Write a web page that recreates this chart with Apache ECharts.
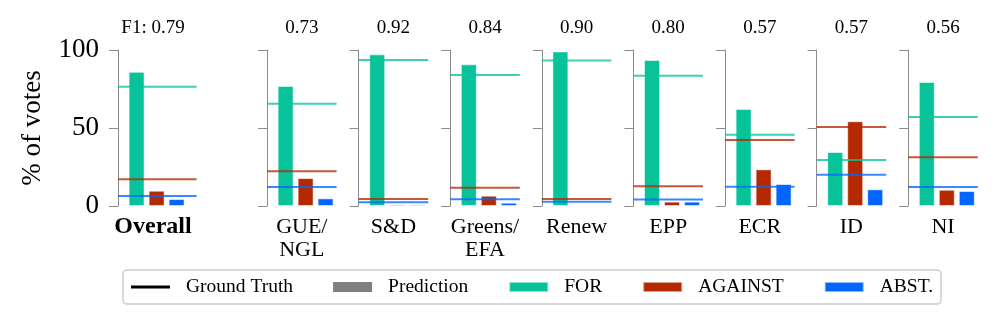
<!DOCTYPE html>
<html lang="en">
<head>
    <meta charset="UTF-8">
    <title>Vote prediction per group</title>
    <script src="https://cdn.jsdelivr.net/npm/echarts@6/dist/echarts.min.js"></script>
    <style>
        html, body { margin: 0; padding: 0; background: #fff; }
        #main { width: 998px; height: 324px; }
    </style>
</head>
<body>
<div id="main"></div>
<script>
    // groups and F1 score shown on top of each panel
    const categories = ['Overall', 'GUE/\nNGL', 'S&D', 'Greens/\nEFA', 'Renew', 'EPP', 'ECR', 'ID', 'NI'];
    const f1Labels = ['F1: 0.79', '0.73', '0.92', '0.84', '0.90', '0.80', '0.57', '0.57', '0.56'];

    // predicted share of votes (bars)
    const predFor = [86, 77, 97.2, 90.8, 99.1, 93.6, 62.2, 34.6, 79.5];
    const predAgainst = [9.8, 17.9, 1.0, 6.6, 0.6, 2.8, 23.5, 54.3, 10.4];
    const predAbst = [4.5, 4.9, 1.0, 2.1, 0.5, 2.8, 14.1, 10.7, 9.6];

    // ground truth share of votes (horizontal lines)
    const gtFor = [76.5, 65.6, 93.6, 84, 93.2, 83.5, 45.7, 29.5, 57];
    const gtAgainst = [17.1, 22.2, 4.5, 11.7, 4.5, 12.6, 42.3, 50.6, 31.2];
    const gtAbst = [6.4, 12.2, 2.4, 4.3, 2.8, 4.1, 12.4, 20.1, 12.2];

    const yTicks = [0, 50, 100];

    const colors = { FOR: '#08c39a', AGAINST: '#b52900', 'ABST.': '#0066ff' };
    const gtColors = { FOR: 'rgba(8,195,154,0.78)', AGAINST: 'rgba(181,41,0,0.78)', 'ABST.': 'rgba(0,102,255,0.78)' };
    const font = 'Liberation Serif';

    const chart = echarts.init(document.getElementById('main'));

    const xMin = -0.93;
    const pxPerUnit = 20;
    const grids = [], xAxes = [], yAxes = [], titles = [], series = [];

    categories.forEach((cat, i) => {
        // the Overall panel is a bit wider (its lines run further right)
        const xMax = i === 0 ? 3.0 : 2.55;
        const left = i === 0 ? 118 : 267 + (i - 1) * 91.6;
        const width = (xMax - xMin) * pxPerUnit;
        const center = i === 0 ? 153 : left + width / 2;
        grids.push({ left: left, top: 50, width: width, height: 156, outerBoundsMode: 'none' });
        titles.push({
            text: f1Labels[i], left: center, top: 19, textAlign: 'center', padding: 0,
            textStyle: { fontFamily: font, fontSize: 19, fontWeight: 'normal', color: '#000' }
        });
        xAxes.push({
            gridIndex: i, type: 'value', min: xMin, max: xMax,
            splitLine: { show: false }, axisLine: { show: false }, axisTick: { show: false },
            axisLabel: { show: false },
            name: cat, nameLocation: 'middle', nameGap: 9,
            nameTextStyle: {
                fontFamily: font, fontSize: i === 0 ? 24 : 22, fontWeight: i === 0 ? 'bold' : 'normal',
                color: '#000', lineHeight: 23.5, verticalAlign: 'top',
                padding: i === 0 ? [0, 2 * (left + width / 2 - center), 0, 0] : 0
            }
        });
        yAxes.push({
            gridIndex: i, type: 'value', min: 0, max: 100, interval: 50,
            splitLine: { show: false },
            axisLine: { show: true, onZero: false, lineStyle: { color: '#8c8c8c', width: 1 } },
            axisTick: { show: true, length: 9, lineStyle: { color: '#8c8c8c' } },
            axisLabel: {
                show: i === 0, margin: 19, fontFamily: font, fontSize: 27, color: '#000',
                formatter: v => yTicks.includes(v) ? String(v) : ''
            },
            name: i === 0 ? '% of votes' : '', nameLocation: 'middle', nameGap: 72,
            nameTextStyle: { fontFamily: font, fontSize: 27, color: '#000' }
        });

        const preds = [['FOR', predFor], ['AGAINST', predAgainst], ['ABST.', predAbst]];
        preds.forEach(([name, arr], k) => {
            series.push({
                type: 'bar', name: name, xAxisIndex: i, yAxisIndex: i,
                barWidth: 16, barGap: '-100%',
                itemStyle: { color: colors[name], borderColor: 'rgba(255,255,255,0.55)', borderWidth: 1 },
                data: [[k, arr[i]]], silent: true, z: 2
            });
        });

        const gts = [['FOR', gtFor], ['AGAINST', gtAgainst], ['ABST.', gtAbst]];
        gts.forEach(([name, arr]) => {
            series.push({
                type: 'line', name: 'Ground Truth', xAxisIndex: i, yAxisIndex: i,
                symbol: 'none', silent: true, z: 3,
                lineStyle: { color: gtColors[name], width: 2 },
                itemStyle: { color: gtColors[name] },
                data: [[xMin, arr[i]], [xMax, arr[i]]]
            });
        });
    });

    // only for the legend entry
    series.push({
        type: 'bar', name: 'Prediction', xAxisIndex: 0, yAxisIndex: 0,
        barWidth: 16, barGap: '-100%', itemStyle: { color: '#808080' }, data: []
    });

    chart.setOption({
        animation: false,
        textStyle: { fontFamily: font },
        title: titles,
        grid: grids,
        xAxis: xAxes,
        yAxis: yAxes,
        legend: {
            left: 123, top: 270, orient: 'horizontal',
            padding: [7, 8], itemGap: 40, itemWidth: 39, itemHeight: 10,
            borderColor: '#d9d9d9', borderWidth: 2, borderRadius: 4,
            selectedMode: false, icon: 'rect',
            textStyle: { fontFamily: font, fontSize: 19.5, color: '#000', padding: [0, 0, 0, 11] },
            data: [
                { name: 'Ground Truth', icon: 'path://M0,0 M0,10 M0,3.5 L40,3.5 L40,6.5 L0,6.5 Z',
                  itemStyle: { color: '#000' }, lineStyle: { color: '#000' } },
                { name: 'Prediction', itemStyle: { color: '#808080' } },
                { name: 'FOR' }, { name: 'AGAINST' }, { name: 'ABST.' }
            ]
        },
        series: series
    });
</script>
</body>
</html>
